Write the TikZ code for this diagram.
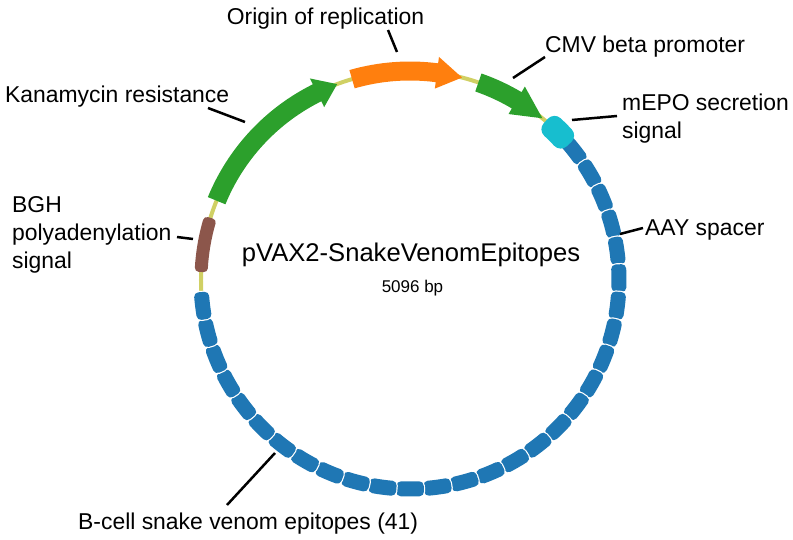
\documentclass[tikz,border=0pt]{standalone}
\usepackage{fontspec}
\setmainfont{Liberation Sans}
\definecolor{kan}{HTML}{2CA02C}
\definecolor{ori}{HTML}{FF7F0E}
\definecolor{epblue}{HTML}{1F77B4}
\definecolor{bgh}{HTML}{8C564B}
\definecolor{mepo}{HTML}{17BECF}
\definecolor{bb}{RGB}{208,208,100}
% rounded annular segment: lo angle, hi angle, half width, corner radius, colour, outline
\newcommand\roundseg[6]{%
 \pgfmathsetmacro\rsA{209-#3+#4}%
 \pgfmathsetmacro\rsB{209+#3-#4}%
 \pgfmathsetmacro\rsD{#4/209*180/pi}%
 \pgfmathsetmacro\rsLo{#1+\rsD}%
 \pgfmathsetmacro\rsHi{#2-\rsD}%
 \pgfmathsetmacro\rsW{2*#4}%
 \pgfmathsetmacro\rsWo{2*#4+2*#6}%
 \ifdim #6pt>0pt
 \filldraw[white, line width=\rsWo pt, line join=round] (\rsLo:\rsA) arc[start angle=\rsLo, end angle=\rsHi, radius=\rsA] -- (\rsHi:\rsB) arc[start angle=\rsHi, end angle=\rsLo, radius=\rsB] -- cycle;
 \fi
 \filldraw[#5, line width=\rsW pt, line join=round] (\rsLo:\rsA) arc[start angle=\rsLo, end angle=\rsHi, radius=\rsA] -- (\rsHi:\rsB) arc[start angle=\rsHi, end angle=\rsLo, radius=\rsB] -- cycle;}
\newcommand\arrowfeat[4]{%
 \fill[#4] (#1:199.5) arc[start angle=#1, end angle=#2, radius=199.5] -- (#2:193) -- (#3:209) -- (#2:225) -- (#2:218.5) arc[start angle=#2, end angle=#1, radius=218.5] -- cycle;}
\tikzset{
 lbl/.style={inner sep=0pt, font=\fontsize{22.9}{28}\selectfont, anchor=base west},
 leader/.style={black, line width=2.5pt},
 backbone/.style={bb, line width=4pt}
}
\begin{document}
\begin{tikzpicture}[x=1pt,y=1pt]
\useasboundingbox (-410,-260) rectangle (383,280);
\draw[backbone] (0,0) circle[radius=209];
% features
\arrowfeat{157.7}{116.4}{110.4}{kan}
\arrowfeat{106.1}{82.6}{75.6}{ori}
\arrowfeat{70.9}{59.3}{50.7}{kan}
\roundseg{162.7}{177.8}{6.5}{4}{bgh}{0}
\foreach \k in {0,...,28}{
 \pgfmathsetmacro\segLo{42-(\k+1)*7.541}
 \pgfmathsetmacro\segHi{42-\k*7.541}
 \roundseg{\segLo}{\segHi}{7.5}{4.5}{epblue}{1.2}
}
\roundseg{40.5}{49.5}{12}{9}{mepo}{0}
% labels
\node[lbl, anchor=base] (orilbl) at (-84.5,255) {Origin of replication};
\node[lbl] (kanlbl) at (-405,177) {Kanamycin resistance};
\node[lbl] (cmvlbl) at (135,227) {CMV beta promoter};
\node[lbl] (mepo1) at (212,169) {mEPO secretion};
\node[lbl] (mepo2) at (212,141) {signal};
\node[lbl] (aaylbl) at (235,44) {AAY spacer};
\node[lbl] (bgh1) at (-398,67) {BGH};
\node[lbl] (bgh2) at (-398,39) {polyadenylation};
\node[lbl] (bgh3) at (-398,11) {signal};
\node[lbl] (eplbl) at (-332,-250) {B-cell snake venom epitopes (41)};
\node[inner sep=0pt, font=\fontsize{25.6}{30}\selectfont, anchor=base] (title) at (1,18) {pVAX2-SnakeVenomEpitopes};
\node[inner sep=0pt, font=\fontsize{17}{20}\selectfont, anchor=base] (size) at (2.5,-13) {5096 bp};
% leader coordinates
\coordinate (oriA) at (-22,250); \coordinate (oriB) at (-13,228);
\coordinate (kanA) at (-202,172); \coordinate (kanB) at (-165,158);
\coordinate (cmvA) at (135,223); \coordinate (cmvB) at (103,202);
\coordinate (mepoA) at (162,160); \coordinate (mepoB) at (207,164);
\coordinate (aayA) at (210,46); \coordinate (aayB) at (233,52);
\coordinate (bghA) at (-233,43); \coordinate (bghB) at (-217,41);
\coordinate (epA) at (-183,-225); \coordinate (epB) at (-135,-173);
\draw[leader] (oriA) -- (oriB);
\draw[leader] (kanA) -- (kanB);
\draw[leader] (cmvA) -- (cmvB);
\draw[leader] (mepoA) -- (mepoB);
\draw[leader] (aayA) -- (aayB);
\draw[leader] (bghA) -- (bghB);
\draw[leader] (epA) -- (epB);
\end{tikzpicture}
\end{document}
